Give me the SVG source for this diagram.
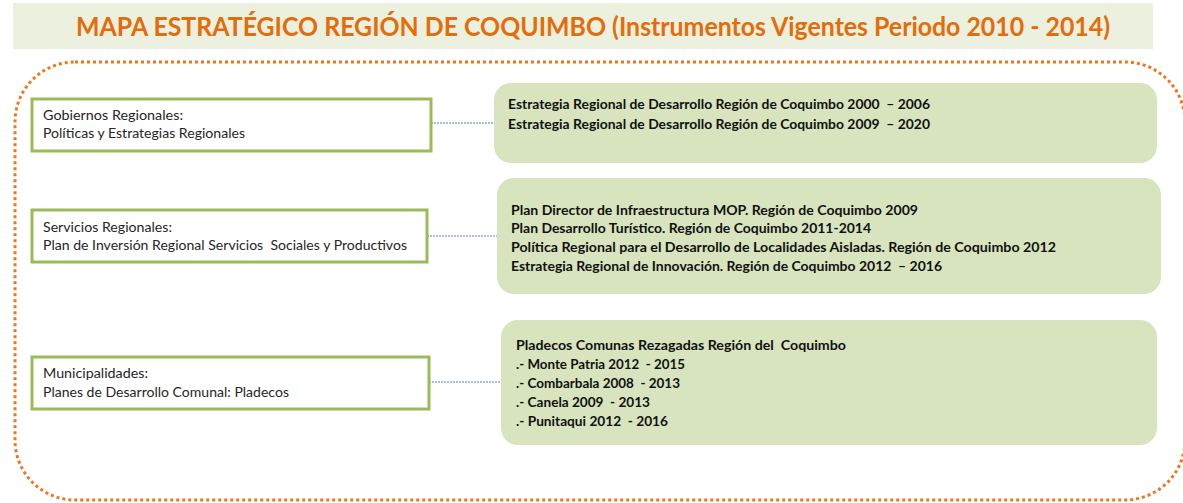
<svg xmlns="http://www.w3.org/2000/svg" width="1183" height="503" viewBox="0 0 1183 503">
<style>
.lbox{fill:#FFFFFF;stroke:#9BBB59;stroke-width:3}
.gbox{fill:#D7E4BD;stroke:none}
.lt{font-family:Lato,"Liberation Sans",sans-serif;font-size:13.5px;fill:#262626}
.rt{font-family:Lato,"Liberation Sans",sans-serif;font-size:13.5px;font-weight:bold;fill:#111111}
.con{stroke:#4F81BD;stroke-width:1;stroke-dasharray:2 1;fill:none}
</style>
<rect x="13" y="3" width="1140" height="46" fill="#EBF1DE"/>
<text x="593" y="36" text-anchor="middle" font-family="Lato,'Liberation Sans',sans-serif" font-size="26.5" font-weight="bold" fill="#E46C0A" textLength="1034" lengthAdjust="spacingAndGlyphs">MAPA ESTRATÉGICO REGIÓN DE COQUIMBO (Instrumentos Vigentes Periodo 2010 - 2014)</text>
<rect x="15" y="62" width="1170" height="438" rx="60" ry="60" fill="none" stroke="#EE7623" stroke-width="3" stroke-dasharray="3 3"/>
<g id="connectors">
<line class="con" x1="431" y1="123" x2="494" y2="123"/>
<line class="con" x1="427" y1="236" x2="497" y2="236"/>
<line class="con" x1="429" y1="382" x2="501" y2="382"/>
</g>
<g id="gobiernos">
<rect class="lbox" x="32" y="99" width="399" height="52"/>
<text class="lt" x="43" y="120" textLength="140" lengthAdjust="spacingAndGlyphs">Gobiernos Regionales:</text>
<text class="lt" x="43" y="138" textLength="202" lengthAdjust="spacingAndGlyphs">Políticas y Estrategias Regionales</text>
</g>
<g id="servicios">
<rect class="lbox" x="32" y="210" width="395" height="52"/>
<text class="lt" x="43" y="232" textLength="129" lengthAdjust="spacingAndGlyphs">Servicios Regionales:</text>
<text class="lt" x="43" y="250" textLength="364" lengthAdjust="spacingAndGlyphs" xml:space="preserve">Plan de Inversión Regional Servicios  Sociales y Productivos</text>
</g>
<g id="municipalidades">
<rect class="lbox" x="32" y="357" width="397" height="52"/>
<text class="lt" x="43" y="378" textLength="105" lengthAdjust="spacingAndGlyphs">Municipalidades:</text>
<text class="lt" x="43" y="397" textLength="246" lengthAdjust="spacingAndGlyphs">Planes de Desarrollo Comunal: Pladecos</text>
</g>
<g id="estrategias">
<rect class="gbox" x="494" y="83" width="663" height="80" rx="17" ry="17"/>
<text class="rt" x="508" y="109" textLength="422" lengthAdjust="spacingAndGlyphs" xml:space="preserve">Estrategia Regional de Desarrollo Región de Coquimbo 2000  – 2006</text>
<text class="rt" x="508" y="129" textLength="422" lengthAdjust="spacingAndGlyphs" xml:space="preserve">Estrategia Regional de Desarrollo Región de Coquimbo 2009  – 2020</text>
</g>
<g id="planes">
<rect class="gbox" x="497" y="178" width="664" height="116" rx="17" ry="17"/>
<text class="rt" x="511" y="215" textLength="407" lengthAdjust="spacingAndGlyphs">Plan Director de Infraestructura MOP. Región de Coquimbo 2009</text>
<text class="rt" x="511" y="233" textLength="360" lengthAdjust="spacingAndGlyphs">Plan Desarrollo Turístico. Región de Coquimbo 2011-2014</text>
<text class="rt" x="511" y="252" textLength="545" lengthAdjust="spacingAndGlyphs">Política Regional para el Desarrollo de Localidades Aisladas. Región de Coquimbo 2012</text>
<text class="rt" x="511" y="271" textLength="431" lengthAdjust="spacingAndGlyphs" xml:space="preserve">Estrategia Regional de Innovación. Región de Coquimbo 2012  – 2016</text>
</g>
<g id="pladecos">
<rect class="gbox" x="501" y="320" width="656" height="125" rx="17" ry="17"/>
<text class="rt" x="516" y="350" textLength="330" lengthAdjust="spacingAndGlyphs" xml:space="preserve">Pladecos Comunas Rezagadas Región del  Coquimbo</text>
<text class="rt" x="516" y="369" textLength="169" lengthAdjust="spacingAndGlyphs" xml:space="preserve">.- Monte Patria 2012  - 2015</text>
<text class="rt" x="516" y="388" textLength="164" lengthAdjust="spacingAndGlyphs" xml:space="preserve">.- Combarbala 2008  - 2013</text>
<text class="rt" x="516" y="407" textLength="134" lengthAdjust="spacingAndGlyphs" xml:space="preserve">.- Canela 2009  - 2013</text>
<text class="rt" x="516" y="426" textLength="152" lengthAdjust="spacingAndGlyphs" xml:space="preserve">.- Punitaqui 2012  - 2016</text>
</g>
</svg>
